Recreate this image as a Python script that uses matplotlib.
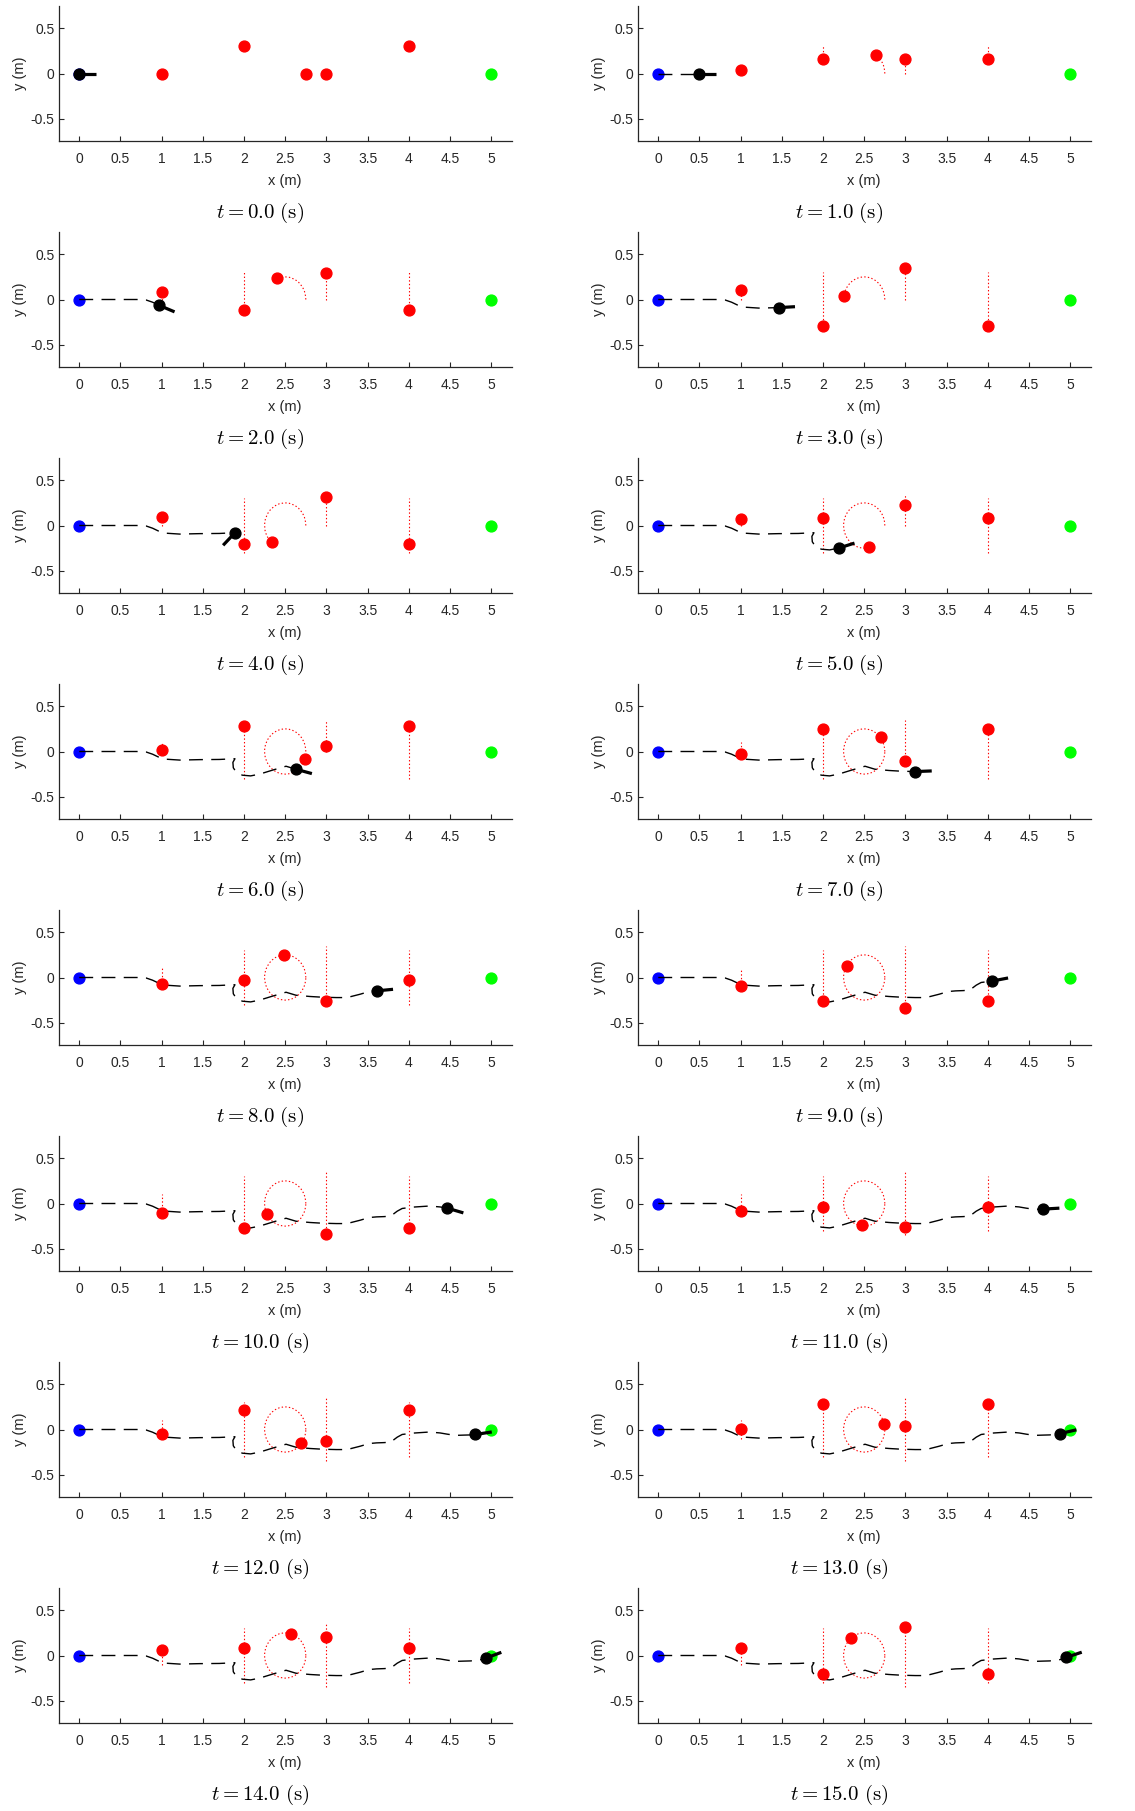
import numpy as np
import matplotlib
matplotlib.use("Agg")
import matplotlib.pyplot as plt
from matplotlib.patches import Arc

plt.rcParams['font.family'] = ['Liberation Sans', 'DejaVu Sans']
plt.rcParams['mathtext.fontset'] = 'cm'
plt.rcParams['lines.scale_dashes'] = False

# ---------------- data ----------------
times = [0.0, 1.0, 2.0, 3.0, 4.0, 5.0, 6.0, 7.0, 8.0, 9.0, 10.0, 11.0, 12.0, 13.0, 14.0, 15.0]

start_xy = (0.0, 0.0)
goal_xy = (5.0, 0.0)

# vertically moving obstacles (x fixed)
obs1_x = 1.0
obs1_y = [0.0, 0.044, 0.085, 0.10, 0.093, 0.067, 0.022, -0.03, -0.074, -0.093, -0.10, -0.08, -0.05, 0.01, 0.063, 0.086]
obs1_lo = [0.0, 0.0, 0.0, 0.0, 0.0, 0.0, 0.0, -0.03, -0.074, -0.093, -0.10, -0.10, -0.10, -0.10, -0.10, -0.10]
obs1_hi = [0.0, 0.044, 0.085, 0.10, 0.10, 0.10, 0.10, 0.10, 0.10, 0.10, 0.10, 0.10, 0.10, 0.10, 0.10, 0.10]

obs2_x = 2.0
obs2_y = [0.30, 0.163, -0.12, -0.29, -0.20, 0.078, 0.278, 0.244, -0.026, -0.26, -0.27, -0.04, 0.22, 0.28, 0.082, -0.20]
obs2_lo = [0.30, 0.163, -0.12, -0.30, -0.30, -0.30, -0.30, -0.30, -0.30, -0.30, -0.30, -0.30, -0.30, -0.30, -0.30, -0.30]
obs2_hi = [0.30] * 16

obs3_x = 3.0
obs3_y = [0.0, 0.163, 0.29, 0.344, 0.32, 0.226, 0.056, -0.107, -0.263, -0.337, -0.34, -0.256, -0.13, 0.04, 0.209, 0.317]
obs3_lo = [0.0, 0.0, 0.0, 0.0, 0.0, 0.0, 0.0, -0.107, -0.263, -0.337, -0.35, -0.35, -0.35, -0.35, -0.35, -0.35]
obs3_hi = [0.0, 0.163, 0.29, 0.35, 0.35, 0.35, 0.35, 0.35, 0.35, 0.35, 0.35, 0.35, 0.35, 0.35, 0.35, 0.35]

obs4_x = 4.0
obs4_y = [0.30, 0.163, -0.12, -0.29, -0.20, 0.078, 0.278, 0.244, -0.026, -0.26, -0.27, -0.04, 0.22, 0.28, 0.082, -0.20]
obs4_lo = [0.30, 0.163, -0.12, -0.30, -0.30, -0.30, -0.30, -0.30, -0.30, -0.30, -0.30, -0.30, -0.30, -0.30, -0.30, -0.30]
obs4_hi = [0.30] * 16

# obstacle moving on a circle
circ_center = (2.5, 0.0)
circ_radius = 0.25
circ_x = [2.75, 2.64, 2.40, 2.26, 2.34, 2.56, 2.74, 2.70, 2.48, 2.29, 2.28, 2.47, 2.69, 2.74, 2.57, 2.34]
circ_y = [0.0, 0.21, 0.233, 0.04, -0.18, -0.237, -0.085, 0.16, 0.244, 0.126, -0.115, -0.24, -0.15, 0.06, 0.243, 0.19]
circ_span_deg = [0, 56, 113, 170, 228, 282, 339, 360, 360, 360, 360, 360, 360, 360, 360, 360]

# robot path (read from final frame) and robot index per frame
path_x = [0.00, 0.25, 0.50, 0.70, 0.81, 0.89, 0.97, 1.05, 1.22, 1.46, 1.70, 1.89,
          1.865, 1.87, 1.91, 1.98, 2.08, 2.19, 2.35, 2.51, 2.63, 2.80, 2.95, 3.12,
          3.25, 3.41, 3.52, 3.61, 3.70, 3.78, 3.86, 3.92, 4.05, 4.25, 4.38, 4.47,
          4.57, 4.67, 4.75, 4.81, 4.88, 4.935, 4.95]
path_y = [0.0, 0.0, 0.0, 0.0, -0.005, -0.03, -0.065, -0.085, -0.095, -0.09, -0.088, -0.08,
          -0.12, -0.18, -0.235, -0.262, -0.27, -0.25, -0.205, -0.163, -0.196, -0.21, -0.218, -0.222,
          -0.222, -0.185, -0.155, -0.148, -0.145, -0.14, -0.085, -0.055, -0.04, -0.028, -0.038, -0.052,
          -0.065, -0.062, -0.06, -0.055, -0.045, -0.03, -0.022]
robot_idx = [0, 2, 6, 9, 11, 17, 20, 23, 27, 32, 35, 37, 39, 40, 41, 42]
robot_heading_deg = [0, 0, -21, 3, 224, 16, -14, 2, 5, 10, -15, 3, 8, 12, 19, 17]
heading_len = 0.2

xticks = [0, 0.5, 1, 1.5, 2, 2.5, 3, 3.5, 4, 4.5, 5]
xticklabels = ['0', '0.5', '1', '1.5', '2', '2.5', '3', '3.5', '4', '4.5', '5']
yticks = [-0.5, 0, 0.5]
yticklabels = ['-0.5', '0', '0.5']

# ---------------- layout ----------------
W, H = 1135, 1811
fig = plt.figure(figsize=(W / 100, H / 100), dpi=100)

ax_left0 = 58.7
col_pitch = 579
ax_w = 453
ax_top0 = 5.7
row_pitch = 226
ax_h = 135.6

axis_col = '#262626'
red = '#ff0000'
dot_style = (0, (1.0, 1.6))
dash_style = (0, (10, 6))
msize = 7.8

for i, t in enumerate(times):
    r, c = divmod(i, 2)
    left = ax_left0 + col_pitch * c
    top = ax_top0 + row_pitch * r
    ax = fig.add_axes([left / W, 1 - (top + ax_h) / H, ax_w / W, ax_h / H])
    ax.set_xlim(-0.25, 5.25)
    ax.set_ylim(-0.75, 0.75)
    for s in ['top', 'right']:
        ax.spines[s].set_visible(False)
    for s in ['left', 'bottom']:
        ax.spines[s].set_color(axis_col)
        ax.spines[s].set_linewidth(0.9)
    ax.set_xticks(xticks)
    ax.set_xticklabels(xticklabels)
    ax.set_yticks(yticks)
    ax.set_yticklabels(yticklabels)
    ax.tick_params(direction='in', length=3.5, width=0.8, colors=axis_col,
                   labelsize=10, labelcolor=axis_col)
    ax.tick_params(axis='x', pad=8)
    ax.tick_params(axis='y', pad=3)
    ax.text(0.5, -(180.5 - 141.3) / ax_h, 'x (m)', transform=ax.transAxes,
            ha='center', va='center', fontsize=10.5, color=axis_col)
    ax.text(-38.7 / ax_w, 0.5, 'y (m)', transform=ax.transAxes, rotation=90,
            ha='center', va='center', fontsize=10.5, color=axis_col)

    # obstacle trails
    for ox, lo, hi in [(obs1_x, obs1_lo, obs1_hi), (obs2_x, obs2_lo, obs2_hi),
                       (obs3_x, obs3_lo, obs3_hi), (obs4_x, obs4_lo, obs4_hi)]:
        if hi[i] > lo[i]:
            ax.plot([ox, ox], [lo[i], hi[i]], color=red, lw=0.8, linestyle=dot_style, zorder=2)
    if circ_span_deg[i] > 0:
        arc = Arc(circ_center, 2 * circ_radius, 2 * circ_radius, theta1=0,
                  theta2=circ_span_deg[i], color=red, lw=0.8, linestyle=dot_style, zorder=2)
        ax.add_patch(arc)

    # start and goal
    ax.plot(*start_xy, 'o', color='#0000ff', ms=msize, zorder=3)
    ax.plot(*goal_xy, 'o', color='#00ff00', ms=msize, zorder=3)

    # robot path
    k = robot_idx[i]
    if k > 0:
        ax.plot(path_x[:k + 1], path_y[:k + 1], color='black', lw=1.0,
                linestyle=dash_style, zorder=3)

    # obstacles
    ax.plot([obs1_x, obs2_x, obs3_x, obs4_x, circ_x[i]],
            [obs1_y[i], obs2_y[i], obs3_y[i], obs4_y[i], circ_y[i]],
            'o', color=red, ms=msize, linestyle='none', zorder=4)

    # robot
    rx, ry = path_x[k], path_y[k]
    th = np.deg2rad(robot_heading_deg[i])
    ax.plot([rx, rx + heading_len * np.cos(th)], [ry, ry + heading_len * np.sin(th)],
            color='black', lw=2.3, solid_capstyle='butt', zorder=5)
    ax.plot(rx, ry, 'o', color='black', ms=msize, zorder=6)

    # time label
    cx = left + ax_w / 2 - 25
    cy = top + ax_h + 72
    fig.text(cx / W, 1 - cy / H, r'$t = %.1f\ \mathrm{(s)}$' % t, ha='center', va='center',
             fontsize=15)

fig.savefig('out.png', dpi=100)
